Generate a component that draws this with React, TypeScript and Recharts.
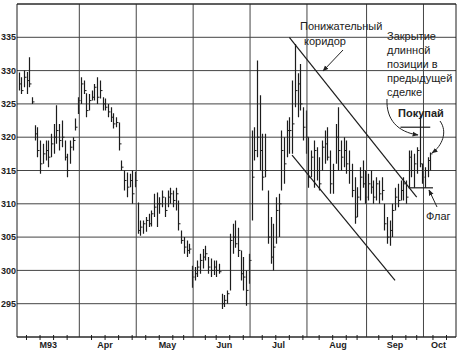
import React from "react";
import { ComposedChart, Bar, XAxis, YAxis, CartesianGrid, ReferenceLine } from "recharts";

// daily bars, Mar 93 .. early Oct (trading-day index)
const highs = [
  329.7, 329.0, 330.0, 329.8, 332.0, 326.0, 321.8, 321.5, 319.5, 319.0,
  319.5, 319.5, 320.5, 322.0, 324.8, 322.0, 322.5, 319.5, 317.5, 319.5,
  320.0, 322.8, 326.0, 329.0, 328.5, 326.6, 326.5, 327.0, 328.0, 329.0,
  328.5, 326.0, 325.8, 325.0, 324.5, 323.6, 323.0, 322.2, 316.5, 315.0,
  314.7, 314.5, 315.0, 314.8, 310.2, 307.5, 307.5, 308.0, 308.5, 309.0,
  311.5, 311.7, 311.0, 312.0, 311.0, 312.0, 312.4, 312.0, 312.4, 310.5,
  306.0, 305.0, 304.5, 304.0, 300.7, 300.5, 301.5, 302.5, 303.2, 303.7,
  302.0, 301.8, 301.5, 301.5, 301.0, 296.5, 296.3, 297.0, 305.5, 307.0,
  307.5, 306.4, 303.0, 302.0, 300.0, 302.5, 321.0, 321.5, 331.5, 326.3,
  320.5, 320.5, 312.0, 308.0, 307.0, 311.0, 311.5, 321.0, 320.0, 322.5,
  323.0, 328.5, 334.0, 329.6, 331.0, 324.5, 324.0, 320.0, 318.0, 319.5,
  318.5, 317.0, 319.5, 321.0, 321.5, 318.0, 316.0, 322.0, 324.5, 319.5,
  320.0, 319.5, 318.0, 316.0, 314.0, 312.5, 315.5, 316.5, 315.0, 314.5,
  315.0, 313.5, 314.0, 313.5, 314.0, 310.0, 308.0, 307.5, 310.0, 312.4,
  313.0, 313.5, 314.0, 313.5, 318.0, 318.0, 317.5, 318.5, 323.2, 316.0,
  315.5, 317.0, 317.7,
];
const lows = [
  327.0, 326.5, 327.5, 326.5, 327.5, 325.0, 319.5, 317.0, 314.5, 316.0,
  316.5, 315.5, 317.0, 317.5, 319.0, 318.0, 318.5, 316.5, 314.0, 316.0,
  318.0, 321.0, 323.5, 325.0, 326.5, 323.0, 324.0, 325.5, 325.5, 325.0,
  325.8, 324.0, 324.0, 323.0, 322.3, 321.3, 321.5, 318.0, 315.0, 312.0,
  311.0, 312.5, 310.0, 312.5, 305.5, 305.2, 305.5, 305.8, 306.5, 306.6,
  308.0, 306.5, 308.5, 309.5, 308.0, 309.5, 310.0, 309.5, 309.0, 306.0,
  304.0, 302.5, 302.0, 302.5, 297.4, 298.5, 299.0, 299.5, 300.3, 301.5,
  299.5, 299.0, 299.3, 299.0, 299.5, 294.2, 294.5, 295.0, 297.0, 302.5,
  303.4, 302.0, 298.5, 297.0, 294.7, 298.0, 307.5, 316.5, 317.0, 315.0,
  312.0, 314.0, 304.0, 301.0, 300.0, 304.0, 305.0, 312.0, 313.0, 317.0,
  317.5, 317.5, 324.5, 323.0, 324.0, 319.5, 317.5, 312.4, 314.0, 312.4,
  313.5, 312.0, 315.0, 316.0, 316.5, 311.5, 311.5, 316.0, 315.0, 315.0,
  315.5, 314.5, 313.0, 311.0, 307.0, 308.0, 310.5, 312.4, 310.0, 310.5,
  311.5, 310.0, 310.5, 310.0, 310.5, 306.0, 304.0, 303.7, 305.0, 309.0,
  309.5, 310.5, 310.5, 310.0, 312.4, 314.0, 312.4, 314.5, 315.5, 313.0,
  312.4, 314.0, 315.0,
];
const closes = [
  328.0, 327.0, 329.0, 328.5, 328.0, 325.3, 320.5, 318.0, 316.0, 317.5,
  318.0, 317.0, 319.0, 320.0, 321.0, 319.5, 320.0, 317.0, 315.0, 318.5,
  319.5, 321.5, 325.5, 328.0, 327.0, 324.0, 325.5, 326.0, 327.5, 326.0,
  327.0, 325.0, 324.5, 323.8, 323.0, 322.0, 322.2, 319.0, 315.5, 313.5,
  312.5, 313.5, 311.5, 313.5, 306.0, 306.5, 307.0, 307.5, 307.0, 308.5,
  309.5, 310.0, 310.0, 311.0, 309.0, 311.0, 311.5, 310.5, 311.5, 307.0,
  304.5, 303.5, 303.0, 303.2, 299.0, 299.5, 300.5, 301.5, 302.0, 302.5,
  300.5, 300.0, 300.5, 300.0, 299.8, 295.0, 295.5, 296.5, 304.5, 305.0,
  304.0, 303.0, 299.5, 299.0, 297.0, 301.5, 314.0, 318.0, 320.0, 318.0,
  314.0, 315.0, 305.0, 302.0, 303.5, 309.0, 310.0, 318.0, 316.0, 321.0,
  321.0, 322.0, 327.0, 328.0, 325.0, 321.5, 320.0, 314.0, 317.0, 318.0,
  315.0, 313.0, 318.5, 319.0, 317.0, 313.0, 315.0, 320.0, 318.0, 317.0,
  318.0, 316.0, 315.0, 312.0, 308.0, 311.0, 314.0, 313.0, 311.0, 313.0,
  312.5, 311.0, 313.0, 311.5, 312.0, 307.0, 305.0, 306.0, 309.0, 311.0,
  310.5, 312.0, 313.0, 311.0, 317.0, 315.0, 316.0, 318.0, 316.0, 314.0,
  315.0, 316.5, 317.5,
];

const dayCount = 162;
const priceTicks = [295, 300, 305, 310, 315, 320, 325, 330, 335];
const monthLabels = ["M93", "Apr", "May", "Jun", "Jul", "Aug", "Sep", "Oct"];
const monthLabelDays = [11, 32, 55, 76, 96, 118, 139, 155];
const monthEndDays = [22, 43, 64, 85, 106, 128, 149];
const weekTickDays = [3, 8, 13, 18, 27, 32, 37, 42, 47, 52, 57, 61, 69, 73, 78, 83, 90, 95, 100, 105, 111, 116, 121, 125, 133, 138, 143, 147, 153, 158];

// channel + levels (day index, price)
const upperChannel = [{ x: 100, y: 335 }, { x: 147, y: 311 }];
const lowerChannel = [{ x: 101, y: 317.3 }, { x: 139, y: 298.5 }];
const exitLevel = [{ x: 141, y: 321.5 }, { x: 152, y: 321.5 }];
const flagLevel = [{ x: 144, y: 312.4 }, { x: 153, y: 312.4 }];

const data = Array.from({ length: dayCount }, (_, i) =>
  i < highs.length
    ? { day: i, range: [lows[i], highs[i]], high: highs[i], low: lows[i], close: closes[i] }
    : { day: i }
);

const axisTicks = Array.from(new Set([...weekTickDays, ...monthLabelDays])).sort((a, b) => a - b);

const ink = "#1c1c1c";
const gridColor = "#444";
const font = "'Liberation Sans', Arial, sans-serif";

const HlcBar = (props: any) => {
  const { x, y, width, height, payload } = props;
  if (!payload || payload.high == null) return null;
  const top = Math.min(y, y + height);
  const bottom = Math.max(y, y + height);
  const cx = Math.round(x + width / 2) + 0.5;
  const cy = top + ((payload.high - payload.close) / (payload.high - payload.low)) * (bottom - top);
  return (
    <g>
      <line x1={cx} x2={cx} y1={top} y2={bottom} stroke={ink} strokeWidth={1.2} />
      <line x1={cx} x2={cx + 2} y1={cy} y2={cy} stroke={ink} strokeWidth={1} />
    </g>
  );
};

const DayTick = (props: any) => {
  const { x, y, payload } = props;
  const d = payload.value;
  const li = monthLabelDays.indexOf(d);
  return (
    <g>
      {weekTickDays.includes(d) && <line x1={x} x2={x} y1={y - 2} y2={y + 3} stroke={ink} />}
      {li >= 0 && (
        <text x={x} y={y + 11} textAnchor="middle" fontSize={9} fontWeight={700} fill={ink} fontFamily={font}>
          {monthLabels[li]}
        </text>
      )}
    </g>
  );
};

const textStyle = { fontFamily: font, fontSize: 11, fill: "#222" };

export default function App() {
  return (
    <div style={{ position: "absolute", left: 0, top: 0, width: 465, height: 357, background: "#fff" }}>
      <ComposedChart width={465} height={357} data={data} margin={{ top: 4, right: 9, bottom: 0, left: 0 }} barCategoryGap={0}>
        <CartesianGrid vertical={false} stroke={gridColor} />
        <XAxis
          dataKey="day"
          type="category"
          ticks={axisTicks}
          interval={0}
          tickLine={false}
          tickSize={0}
          tickMargin={0}
          height={20}
          axisLine={{ stroke: ink }}
          tick={(p: any) => <DayTick {...p} />}
        />
        <YAxis
          type="number"
          domain={[290, 340]}
          ticks={priceTicks}
          interval={0}
          width={17}
          tickSize={0}
          tickMargin={1}
          tickLine={false}
          allowDataOverflow
          axisLine={{ stroke: ink }}
          tick={{ fontSize: 9, fontWeight: 700, fill: ink, fontFamily: font }}
        />
        {monthEndDays.map((d) => (
          <ReferenceLine key={d} x={d} position="end" stroke={gridColor} />
        ))}
        <ReferenceLine x={dayCount - 1} position="end" stroke={ink} />
        <ReferenceLine y={340} stroke={ink} />
        <Bar dataKey="range" shape={HlcBar} isAnimationActive={false} />
        <ReferenceLine segment={upperChannel} stroke={ink} strokeWidth={1.2} />
        <ReferenceLine segment={lowerChannel} stroke={ink} strokeWidth={1.2} />
        <ReferenceLine segment={exitLevel} stroke={ink} strokeWidth={1.2} />
        <ReferenceLine segment={flagLevel} stroke={ink} strokeWidth={1.2} />
      </ComposedChart>
      <svg width={465} height={357} style={{ position: "absolute", left: 0, top: 0, pointerEvents: "none" }}>
        <defs>
          <marker id="arr" viewBox="0 0 10 10" refX="9" refY="5" markerWidth="6" markerHeight="6" orient="auto">
            <path d="M0,1 L10,5 L0,9 z" fill="#222" />
          </marker>
        </defs>
        <text x={300} y={30} {...textStyle}>Понижательный</text>
        <text x={304} y={45} {...textStyle}>коридор</text>
        <text x={387} y={40} {...textStyle}>Закрытие</text>
        <text x={387} y={54} {...textStyle}>длинной</text>
        <text x={387} y={68} {...textStyle}>позиции в</text>
        <text x={387} y={82} {...textStyle}>предыдущей</text>
        <text x={387} y={96} {...textStyle}>сделке</text>
        <text x={398} y={117} {...textStyle} fontWeight={700}>Покупай</text>
        <text x={426} y={220} {...textStyle}>Флаг</text>
        <line x1={343} y1={50} x2={323} y2={71} stroke="#222" strokeWidth={1} markerEnd="url(#arr)" />
        <path d="M387,99 C386,120 398,132 418,135" fill="none" stroke="#222" strokeWidth={1} markerEnd="url(#arr)" />
        <path d="M440,121 C448,132 442,146 432,153" fill="none" stroke="#222" strokeWidth={1} markerEnd="url(#arr)" />
        <line x1={437} y1={207} x2={429} y2={190} stroke="#222" strokeWidth={1} markerEnd="url(#arr)" />
      </svg>
    </div>
  );
}
